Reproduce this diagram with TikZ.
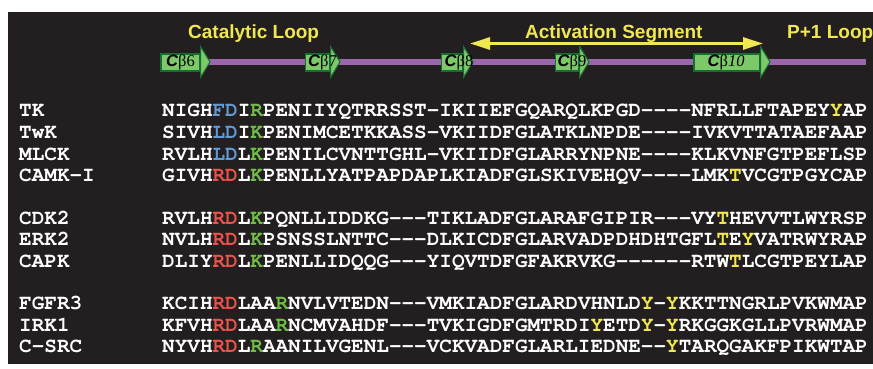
\documentclass[tikz,border=0pt]{standalone}
\usepackage{fontspec}
\setmainfont{Liberation Sans}
\newfontfamily\strandserif{Liberation Serif}
\usepackage{tikz}
\usetikzlibrary{arrows.meta,calc}
\definecolor{panelblack}{RGB}{35,31,32}
\definecolor{hlblue}{RGB}{98,155,213}
\definecolor{hlgreen}{RGB}{112,190,72}
\definecolor{hlred}{RGB}{235,82,75}
\definecolor{hlyellow}{RGB}{240,232,80}
\definecolor{strandgreen}{RGB}{125,200,105}
\definecolor{strandedge}{RGB}{22,110,50}
\definecolor{loopviolet}{RGB}{155,103,172}
\newcommand{\seqfont}{\fontencoding{OT1}\fontfamily{pcr}\fontseries{b}\fontshape{n}\fontsize{21}{21}\selectfont}
\newcommand{\hb}[1]{\textcolor{hlblue}{#1}}
\newcommand{\hg}[1]{\textcolor{hlgreen}{#1}}
\newcommand{\hr}[1]{\textcolor{hlred}{#1}}
\newcommand{\hy}[1]{\textcolor{hlyellow}{#1}}
\pgfdeclarelayer{bg}
\pgfsetlayers{bg,main}
% strand: name, left x, right x, x of the tag, number
\newcommand{\strand}[5]{%
  \node[strandbox,minimum width={(#3-#2)*1pt}] (#1) at ({(#2+#3)/2},62.5) {};
  \draw[strandhead] (#1.north east) ++(0,-7) -- ++(9.5,15.5) -- ++(-9.5,15.5) -- cycle;
  \node[strandtag] (#1-tag) at (#4,62.5) {\textbf{\textit{C}}{\strandserif β#5}};}

\begin{document}
\begin{tikzpicture}[x=1pt,y=-1pt,
  title/.style={anchor=base west,inner sep=0pt,text=hlyellow,font=\fontsize{19}{19}\selectfont\bfseries},
  seqname/.style={anchor=base west,inner sep=0pt,text=white,font=\seqfont},
  seqrow/.style={anchor=base west,inner sep=0pt,text=white,font=\seqfont},
  strandbox/.style={draw=strandedge,fill=strandgreen,line width=1.1pt,minimum height=17pt,inner sep=0pt},
  strandhead/.style={draw=strandedge,fill=strandgreen,line width=1.1pt,line join=miter},
  strandtag/.style={inner sep=0pt,text=black,font=\fontsize{16.5}{16.5}\selectfont},
  loopline/.style={draw=loopviolet,line width=6pt},
  segarrow/.style={draw=hlyellow,line width=3pt,{Triangle[length=20pt,width=12pt]}-{Triangle[length=20pt,width=12pt]}}]

\useasboundingbox (0,0) rectangle (873,369);
\begin{pgfonlayer}{bg}
  \fill[panelblack] (8,12) rectangle (873,364);
\end{pgfonlayer}

\node[title] (catloop) at (188,39) {Catalytic Loop};
\node[title] (actseg)  at (525,39) {Activation Segment};
\node[title] (ploop)   at (787,39) {P+1 Loop};

\coordinate (segL) at (470,43.5);
\coordinate (segR) at (763,43.5);
\draw[segarrow] (segL) -- (segR);

\strand{b6}{161}{200}{180.5}{6}
\strand{b7}{305.5}{330}{322.5}{7}
\strand{b8}{441.5}{463}{459}{8}
\strand{b9}{555.5}{579}{572}{9}
\strand{b10}{694}{760}{726}{\textit{10}}

\coordinate (loopend) at (866,62.5);
\begin{pgfonlayer}{bg}
  \draw[loopline] (b6.east) -- (loopend);
\end{pgfonlayer}

\foreach \nm/\sq/\yy in {
  TK/{NIGH\hb{FD}I\hg{R}PENIIYQTRRSST-IKIIEFGQARQLKPGD----NFRLLFTAPEY\hy{Y}AP}/117,
  TwK/{SIVH\hb{LD}I\hg{K}PENIMCETKKASS-VKIIDFGLATKLNPDE----IVKVTTATAEFAAP}/138.5,
  MLCK/{RVLH\hb{LD}L\hg{K}PENILCVNTTGHL-VKIIDFGLARRYNPNE----KLKVNFGTPEFLSP}/160,
  CAMK-I/{GIVH\hr{RD}L\hg{K}PENLLYATPAPDAPLKIADFGLSKIVEHQV----LMK\hy{T}VCGTPGYCAP}/181.5,
  CDK2/{RVLH\hr{RD}L\hg{K}PQNLLIDDKG---TIKLADFGLARAFGIPIR---VY\hy{T}HEVVTLWYRSP}/224,
  ERK2/{NVLH\hr{RD}L\hg{K}PSNSSLNTTC---DLKICDFGLARVADPDHDHTGFL\hy{T}E\hy{Y}VATRWYRAP}/245.5,
  CAPK/{DLIY\hr{RD}L\hg{K}PENLLIDQQG---YIQVTDFGFAKRVKG------RTW\hy{T}LCGTPEYLAP}/267,
  FGFR3/{KCIH\hr{RD}LAA\hg{R}NVLVTEDN---VMKIADFGLARDVHNLD\hy{Y}-\hy{Y}KKTTNGRLPVKWMAP}/309.5,
  IRK1/{KFVH\hr{RD}LAA\hg{R}NCMVAHDF---TVKIGDFGMTRDI\hy{Y}ETD\hy{Y}-\hy{Y}RKGGKGLLPVRWMAP}/331,
  C-SRC/{NYVH\hr{RD}L\hg{R}AANILVGENL---VCKVADFGLARLIEDNE--\hy{Y}TARQGAKFPIKWTAP}/352.5}
{
  \node[seqname] (n-\nm) at (19,\yy) {\nm};
  \node[seqrow]  (s-\nm) at (162,\yy) {\sq};
}
\end{tikzpicture}
\end{document}
